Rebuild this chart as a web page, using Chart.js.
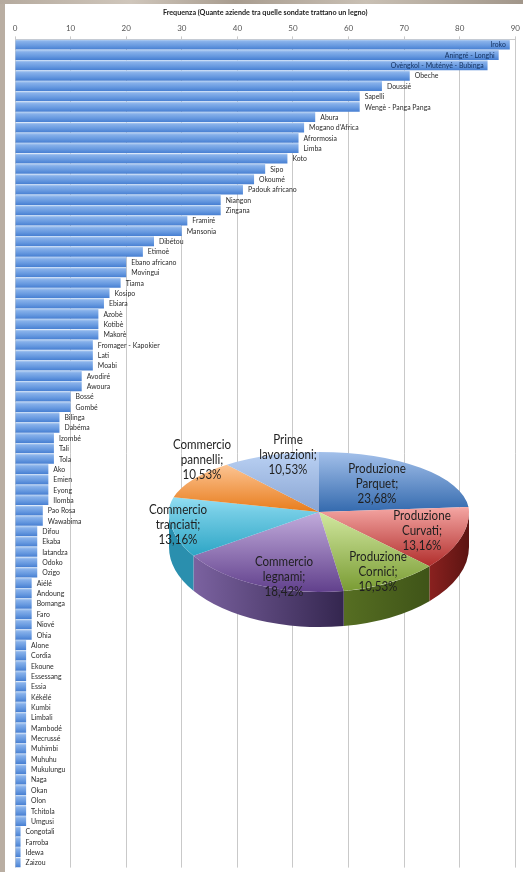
<!DOCTYPE html>
<html><head><meta charset="utf-8">
<script src="https://cdn.jsdelivr.net/npm/chart.js@4"></script>
<style>
html,body{margin:0;padding:0;width:523px;height:872px;overflow:hidden;background:#b9aea2}
canvas{display:block}
#top{position:absolute;left:0;top:0;width:523px;height:4px;background:linear-gradient(90deg,#b5aa9e,#cfc6bb 25%,#a89c8f 45%,#c9c0b4 70%,#a1968a)}
#panel{position:absolute;left:5px;top:4px;width:518px;height:868px;background:#fff}
#barBox{position:absolute;left:0;top:0;width:523px;height:872px;filter:blur(.4px)}
#pieBox{position:absolute;left:119px;top:312px;width:400px;height:400px;filter:blur(.3px)}
</style></head><body>
<div id="top"></div><div id="panel"></div>
<div id="barBox"><canvas id="bars" width="523" height="872"></canvas></div>
<div id="pieBox"><canvas id="pie" width="400" height="400"></canvas></div>
<script>
const woods = ["Iroko","Aningré - Longhi","Ovèngkol - Mutényé - Bubinga","Obeche","Doussié","Sapelli","Wengè - Panga Panga","Abura","Mogano d'Africa","Afrormosia","Limba","Koto","Sipo","Okoumé","Padouk africano","Niangon","Zingana","Framiré","Mansonia","Dibétou","Etimoè","Ebano africano","Movingui","Tiama","Kosipo","Ebiara","Azobè","Kotibè","Makorè","Fromager - Kapokier","Lati","Moabi","Avodiré","Awoura","Bossé","Gombé","Bilinga","Dabéma","Izombé","Tali","Tola","Ako","Emien","Eyong","Ilomba","Pao Rosa","Wawabima","Difou","Ekaba","Iatandza","Odoko","Ozigo","Aiélé","Andoung","Bomanga","Faro","Niové","Ohia","Alone","Cordia","Ekoune","Essessang","Essia","Kékélé","Kumbi","Limbali","Mambodé","Mecrussé","Muhimbi","Muhuhu","Mukulungu","Naga","Okan","Olon","Tchitola","Umgusi","Congotali","Farroba","Idewa","Zaizou"];
const frequency = [89,87,85,71,66,62,62,54,52,51,51,49,45,43,41,37,37,31,30,25,23,20,20,19,17,16,15,15,15,14,14,14,12,12,10,10,8,8,7,7,7,6,6,6,6,5,5,4,4,4,4,4,3,3,3,3,3,3,2,2,2,2,2,2,2,2,2,2,2,2,2,2,2,2,2,2,1,1,1,1];
const xTicks = [0,10,20,30,40,50,60,70,80,90];
const chartTitle = "Frequenza (Quante aziende tra quelle sondate trattano un legno)";
const pieLabels = [["Produzione","Parquet;"],["Produzione","Curvati;"],["Produzione","Cornici;"],["Commercio","legnami;"],["Commercio","tranciati;"],["Commercio","pannelli;"],["Prime","lavorazioni;"]];
const pieValues = [23.68,13.16,10.53,18.42,13.16,10.53,10.53];

function condensedText(ctx,text,x,y,sx){
  ctx.save(); ctx.translate(x,y); ctx.scale(sx,1); ctx.fillText(text,0,0); ctx.restore();
}
const barLabels = {
  id:'barLabels',
  afterDatasetsDraw(chart){
    const ctx=chart.ctx, meta=chart.getDatasetMeta(0);
    ctx.save(); ctx.font='7.9px Lato'; ctx.textBaseline='middle';
    meta.data.forEach((b,i)=>{
      const inside = i<3;
      ctx.fillStyle = inside ? '#12305f' : '#2b2b2b';
      ctx.textAlign = inside ? 'right':'left';
      condensedText(ctx,woods[i], b.x + (inside ? -4 : 5), b.y+.3, .875);
    });
    ctx.restore();
  }
};
new Chart(document.getElementById('bars'),{
  type:'bar',
  data:{labels:woods,datasets:[{data:frequency,barPercentage:.97,categoryPercentage:1,
    backgroundColor(c){
      const ch=c.chart; if(!ch.chartArea) return '#5a8ed6';
      const y=ch.scales.y.getPixelForValue(c.dataIndex), g=ch.ctx.createLinearGradient(0,y-5,0,y+5);
      g.addColorStop(0,'#b8d2f3'); g.addColorStop(.2,'#86b0ea'); g.addColorStop(.6,'#689ae0'); g.addColorStop(1,'#477fd2');
      return g;
    }}]},
  options:{indexAxis:'y',responsive:false,animation:false,
    layout:{padding:{left:15,right:7,top:0,bottom:4.4}},
    plugins:{legend:{display:false},tooltip:{enabled:false}},
    scales:{
      y:{display:false},
      x:{position:'top',min:0,max:90,
        afterFit(s){s.height=39.4},
        afterBuildTicks(s){s.ticks=xTicks.map(v=>({value:v}))},
        title:{display:true,text:chartTitle,color:'#222',font:{family:'Lato',size:7.2,weight:'bold'},padding:{top:8,bottom:0}},
        grid:{color:'#c9c9c9',lineWidth:1,tickLength:3,drawOnChartArea:true},
        border:{color:'#c9c9c9'},
        ticks:{color:'#555',font:{family:'Lato',size:8},padding:3,maxRotation:0,autoSkip:false}
      }
    }
  },
  plugins:[barLabels]
});

/* pie */
const fills=[['#a3c0ea','#346aae'],['#f6a9a6','#b12e2c'],['#d2e8a0','#7a9c34'],['#c2acdc','#61408c'],['#93def3','#2da5c5'],['#fcc493','#e87c1b'],['#bad1f3','#88a4d2']];
const rims=[['#2c5a96','#2c5a96'],['#5c1412','#8a211f'],['#3f5418','#566e22'],['#34264f','#7b62a0'],['#2a8fae','#2a8fae'],['#c06a18','#c06a18'],['#7088b0','#7088b0']];
const K_TOP=.40,K_BOT=.5335,DEPTH=35;
const labelSpots=[[377,469],[422,516],[378,557],[284,562],[178,510],[202,445],[288,440]];
const LINE_H=14.8;

function sliceRange(i,cy,r){
  let s=0; const tot=pieValues.reduce((a,b)=>a+b,0);
  for(let k=0;k<i;k++) s+=pieValues[k];
  const e=s+pieValues[i]; let lo=0,hi=0;
  for(let t=0;t<=40;t++){const a=((s+(e-s)*t/40)/tot)*2*Math.PI-Math.PI/2, y=Math.sin(a)*r; lo=Math.min(lo,y); hi=Math.max(hi,y);}
  return [cy+lo,cy+hi];
}
const pie3d={
  id:'pie3d',
  beforeDatasetsDraw(chart){
    const ctx=chart.ctx, arcs=chart.getDatasetMeta(0).data, a0=arcs[0], cx=a0.x, cy=a0.y, r=a0.outerRadius;
    const W=chart.width,H=chart.height;
    arcs.forEach((a,i)=>{
      const s=Math.max(a.startAngle,0), e=Math.min(a.endAngle,Math.PI);
      if(e<=s) return;
      const g=ctx.createLinearGradient(cx+r*Math.cos(s),0,cx+r*Math.cos(e),0);
      g.addColorStop(0,rims[i][0]); g.addColorStop(1,rims[i][1]);
      ctx.save(); ctx.beginPath();
      ctx.ellipse(cx,cy,r,r*K_BOT,0,s,e);
      ctx.ellipse(cx,cy+DEPTH,r,r*K_BOT,0,e,s,true);
      ctx.closePath(); ctx.fillStyle=g; ctx.fill(); ctx.restore();
    });
    [[0,cy+.5,K_TOP],[cy,H-cy,K_BOT]].forEach(([y,h,k])=>{
      ctx.save();
      ctx.beginPath(); ctx.rect(0,y,W,h); ctx.clip();
      ctx.translate(cx,cy); ctx.scale(1,k); ctx.translate(-cx,-cy);
      arcs.forEach(a=>a.draw(ctx));
      ctx.restore();
    });
    return false;
  },
  afterDraw(chart){
    const ctx=chart.ctx, box=chart.canvas.parentNode, ox=box.offsetLeft, oy=box.offsetTop;
    ctx.save(); ctx.font='12.6px Lato'; ctx.fillStyle='#1f1f1f'; ctx.textAlign='center'; ctx.textBaseline='middle';
    pieLabels.forEach((lines,i)=>{
      const [x,y]=labelSpots[i];
      const all=[...lines,pieValues[i].toFixed(2).replace('.',',')+'%'];
      all.forEach((t,j)=>condensedText(ctx,t,x-ox,y-oy+j*LINE_H,.92));
    });
    ctx.restore();
  }
};
new Chart(document.getElementById('pie'),{
  type:'pie',
  data:{labels:pieLabels.map(l=>l.join(' ')),datasets:[{data:pieValues,borderWidth:0,
    backgroundColor(c){
      const ch=c.chart; if(!ch.chartArea) return '#888';
      const r=150, cy=(ch.chartArea.top+ch.chartArea.bottom)/2, [a,b]=sliceRange(c.dataIndex,cy,r);
      const g=ch.ctx.createLinearGradient(0,a,0,b);
      g.addColorStop(0,fills[c.dataIndex][0]); g.addColorStop(1,fills[c.dataIndex][1]);
      return g;
    }}]},
  options:{responsive:false,animation:false,layout:{padding:50},
    plugins:{legend:{display:false},tooltip:{enabled:false}}},
  plugins:[pie3d]
});
</script>
</body></html>
